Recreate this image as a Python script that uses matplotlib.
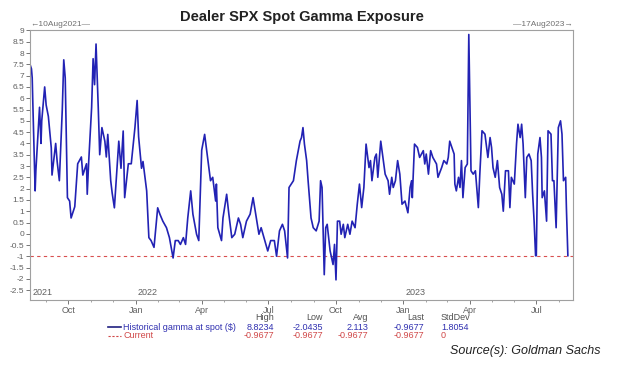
import numpy as np
import pandas as pd
import matplotlib
matplotlib.use('Agg')
import matplotlib.pyplot as plt
import matplotlib.dates as mdates
from matplotlib.lines import Line2D

plt.rcParams['font.family'] = ['Liberation Sans', 'DejaVu Sans']

start = pd.Timestamp('2021-08-10')

# days after 10Aug2021 and gamma at spot
days = [0, 2, 3, 4, 7, 8, 13, 15, 16, 20, 22, 25, 29, 30, 35, 37, 40, 44, 46, 48,
        51, 54, 56, 59, 61, 65, 70, 72, 77, 78, 80, 84, 86, 88, 90, 93, 95, 98, 102, 104,
        106, 110, 112, 115, 121, 124, 127, 129, 134, 138, 143, 146, 148, 152, 154, 159, 162, 165, 169, 174,
        177, 181, 186, 190, 195, 198, 202, 205, 209, 212, 215, 219, 222, 227, 230, 234, 238, 243, 246, 249,
        253, 254, 256, 261, 263, 268, 271, 275, 279, 284, 287, 290, 295, 300, 304, 307, 312, 315, 320, 324,
        328, 333, 336, 340, 344, 347, 351, 353, 359, 363, 368, 370, 372, 374, 377, 379, 383, 386, 390, 394,
        396, 398, 401, 403, 405, 409, 411, 413, 415, 417, 419, 422, 424, 427, 429, 433, 436, 439, 443, 446,
        449, 452, 455, 458, 462, 464, 466, 470, 472, 474, 478, 481, 484, 488, 490, 493, 495, 498, 501, 504,
        507, 511, 515, 518, 520, 521, 524, 528, 531, 536, 538, 540, 543, 546, 549, 554, 556, 561, 564, 568,
        570, 572, 575, 578, 579, 581, 584, 586, 588, 590, 593, 596, 598, 600, 601, 604, 607, 611, 613, 616,
        620, 624, 627, 629, 631, 634, 637, 640, 643, 645, 648, 652, 654, 656, 660, 663, 665, 668, 670, 672,
        675, 677, 680, 683, 685, 687, 689, 690, 692, 695, 697, 698, 701, 704, 706, 710, 712, 714, 717, 720,
        723, 725, 727, 730, 731, 733]
gamma = [7.5, 7.3, 6.9, 5.6, 1.9, 2.8, 5.6, 4.0, 5.0, 6.5, 5.7, 5.2, 3.8, 2.6, 4.0, 3.2, 2.35, 5.5, 7.7, 6.9,
         1.6, 1.45, 0.7, 1.0, 1.2, 3.1, 3.4, 2.6, 3.1, 1.75, 3.2, 5.6, 7.75, 6.6, 8.4, 5.6, 3.5, 4.7, 4.1, 3.4,
         4.4, 2.35, 1.8, 1.15, 4.1, 2.9, 4.55, 1.6, 3.1, 3.1, 4.7, 5.9, 4.3, 2.9, 3.2, 1.9, -0.17, -0.3, -0.6, 1.15,
         0.87, 0.56, 0.27, -0.17, -1.07, -0.3, -0.3, -0.47, -0.17, -0.47, 0.7, 1.9, 0.87, -0.02, -0.3, 3.7, 4.4, 3.1, 2.35, 2.5,
         1.45, 2.2, 0.27, -0.3, 0.7, 1.75, 0.87, -0.17, -0.02, 0.7, 0.42, -0.17, 0.56, 0.87, 1.6, 1.0, -0.02, 0.27, -0.3, -0.76,
         -0.3, -0.3, -0.99, 0.13, 0.42, 0.13, -1.07, 2.05, 2.35, 3.24, 4.1, 4.26, 4.7, 3.97, 3.24, 2.35, 0.7, 0.27, 0.13, 0.56,
         2.35, 2.05, -1.81, 0.27, 0.42, -0.76, -1.07, -1.36, -0.47, -2.04, 0.56, 0.56, -0.02, 0.42, -0.17, 0.42, -0.02, 0.56, 0.27, 1.31,
         2.2, 1.16, 2.05, 3.97, 2.93, 3.24, 2.35, 3.38, 3.53, 2.5, 4.1, 3.38, 2.64, 2.35, 1.75, 2.5, 2.05, 2.35, 3.24, 2.64,
         1.31, 1.45, 0.93, 2.05, 2.35, 1.6, 3.97, 3.82, 3.38, 3.68, 3.09, 3.53, 2.64, 3.68, 3.38, 3.09, 2.5, 2.93, 3.24, 3.09,
         3.38, 4.1, 3.82, 3.53, 2.2, 1.9, 2.5, 2.05, 3.24, 1.6, 2.93, 3.09, 8.82, 4.7, 2.79, 2.64, 2.79, 1.16, 2.64, 4.56,
         4.41, 3.38, 4.26, 3.82, 2.93, 2.5, 3.24, 2.05, 1.75, 1.0, 2.79, 2.79, 1.16, 2.5, 2.2, 3.97, 4.85, 4.26, 4.85, 3.97,
         1.6, 3.38, 3.53, 3.24, 1.75, 0.56, -0.97, -0.97, 3.53, 4.26, 3.38, 1.6, 1.9, 0.56, 4.56, 4.41, 2.35, 2.35, 0.27, 4.7,
         5.0, 4.41, 2.35, 2.5, 1.16, -0.9677]
current = -0.9677

stat_names = ['High', 'Low', 'Avg', 'Last', 'StdDev']
hist_stats = ['8.8234', '-2.0435', '2.113', '-0.9677', '1.8054']
curr_stats = ['-0.9677', '-0.9677', '-0.9677', '-0.9677', '0']

dates = start + pd.to_timedelta(days, unit='D')

W, H = 618, 372
fig = plt.figure(figsize=(W / 100, H / 100), dpi=100)
ax = fig.add_axes([30 / W, 1 - 300 / H, 543 / W, 270 / H])

ax.axhline(current, color='#d85050', lw=0.8, ls=(0, (3, 3)), zorder=1)
ax.plot(dates, gamma, color='#2222b4', lw=1.2, zorder=2)

ax.set_xlim(start, start + pd.Timedelta(days=740))
ax.set_ylim(-2.93, 9.02)

yt = np.arange(-2.5, 9.01, 0.5)
ax.set_yticks(yt)
ax.set_yticklabels([f'{v:g}' for v in yt])

ax.xaxis.set_major_locator(mdates.MonthLocator(bymonth=[1, 4, 7, 10]))
ax.xaxis.set_major_formatter(mdates.DateFormatter('%b'))
ax.xaxis.set_minor_locator(mdates.MonthLocator())

for s in ax.spines.values():
    s.set_color('#a0a0a0')
    s.set_linewidth(0.8)
ax.tick_params(axis='y', labelsize=6, colors='#606060', length=3, width=0.6, pad=1)
ax.tick_params(axis='x', which='major', labelsize=6.5, colors='#606060', length=3, width=0.6, pad=1)
ax.tick_params(axis='x', which='minor', length=1.5, width=0.5, colors='#808080')

# year labels inside the bottom of the plot
for yr_date, yr in [(start, '2021'), (pd.Timestamp('2022-01-01'), '2022'), (pd.Timestamp('2023-01-01'), '2023')]:
    ax.text(yr_date + pd.Timedelta(days=3), 0.01, yr, transform=ax.get_xaxis_transform(),
            fontsize=6.5, color='#606060', ha='left', va='bottom')

fig.text(302 / W, 1 - 17 / H, 'Dealer SPX Spot Gamma Exposure', fontsize=10.5, fontweight='bold',
         ha='center', va='center', color='#222222')
fig.text(30 / W, 1 - 24 / H, '\u219010Aug2021\u2014', fontsize=6, color='#707070', ha='left', va='center')
fig.text(573 / W, 1 - 24 / H, '\u201417Aug2023\u2192', fontsize=6, color='#707070', ha='right', va='center')

# stats legend below the axis
blue, red = '#3030b0', '#d04848'
fig.add_artist(Line2D([108 / W, 121 / W], [1 - 327 / H] * 2, color='#202080', lw=1.2))
fig.add_artist(Line2D([108 / W, 121 / W], [1 - 336 / H] * 2, color=red, lw=0.8, ls=(0, (2, 1.5))))
fig.text(123 / W, 1 - 327 / H, 'Historical gamma at spot ($)', fontsize=6.5, color=blue, va='center')
fig.text(123 / W, 1 - 336 / H, 'Current', fontsize=6.5, color=red, va='center')
col_x = [274, 323, 368, 424, 441]
for i, name in enumerate(stat_names):
    ha = 'left' if i == 4 else 'right'
    fig.text(col_x[i] / W, 1 - 318 / H, name, fontsize=6.5, color='#505050', ha=ha, va='center')
    fig.text(col_x[i] / W, 1 - 327 / H, hist_stats[i], fontsize=6.5, color=blue, ha=ha, va='center')
    fig.text(col_x[i] / W, 1 - 336 / H, curr_stats[i], fontsize=6.5, color=red, ha=ha, va='center')

fig.text(600 / W, 1 - 351 / H, 'Source(s): Goldman Sachs', fontsize=9, style='italic',
         color='#222222', ha='right', va='center')

plt.savefig('out.png', dpi=100)
plt.close()
